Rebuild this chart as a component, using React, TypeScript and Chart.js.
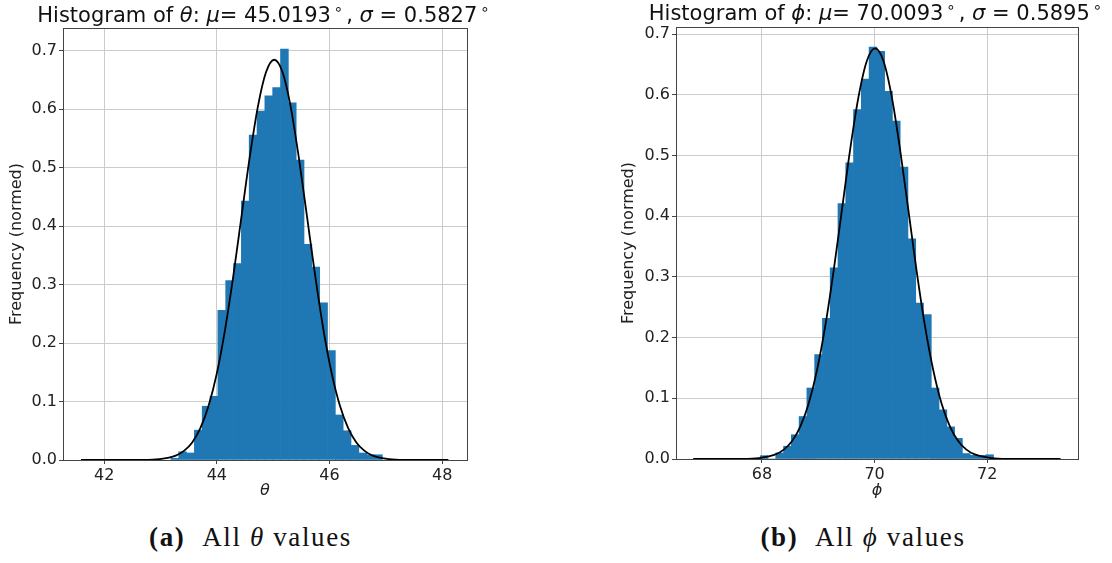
import React, { useEffect, useRef } from "react";
import { Chart, registerables } from "chart.js";

Chart.register(...registerables);

// ---------- data: theta histogram ----------
const THETA_BIN_CENTERS = [
  43.254, 43.393, 43.532, 43.671, 43.81, 43.949, 44.088, 44.227, 44.366, 44.505,
  44.644, 44.783, 44.922, 45.061, 45.2, 45.339, 45.478, 45.617, 45.756, 45.895,
  46.034, 46.173, 46.312, 46.451, 46.59, 46.729, 46.868,
];
const THETA_DENSITY = [
  0.003, 0.014, 0.012, 0.051, 0.092, 0.109, 0.256, 0.307, 0.336, 0.443,
  0.556, 0.597, 0.623, 0.637, 0.703, 0.611, 0.513, 0.369, 0.33, 0.269,
  0.187, 0.077, 0.05, 0.025, 0.012, 0.009, 0.009,
];
const THETA_FIT_X = [
  41.59, 42.688, 42.98, 43.271, 43.417, 43.563, 43.708, 43.854, 44.0, 44.145,
  44.291, 44.436, 44.582, 44.728, 44.874, 45.019, 45.165, 45.311, 45.456, 45.602,
  45.748, 45.893, 46.039, 46.185, 46.331, 46.476, 46.622, 46.767, 47.058, 47.35, 48.11,
];
const THETA_FIT_Y = [
  0.0, 0.0002, 0.0015, 0.0076, 0.0156, 0.0301, 0.0545, 0.0927, 0.1481, 0.2223,
  0.3135, 0.4153, 0.5168, 0.6042, 0.6636, 0.6847, 0.6636, 0.6042, 0.5168, 0.4153,
  0.3135, 0.2223, 0.1481, 0.0927, 0.0545, 0.0301, 0.0156, 0.0076, 0.0015, 0.0002, 0.0,
];
const THETA_X_TICKS = [42, 44, 46, 48];

// ---------- data: phi histogram ----------
const PHI_BIN_CENTERS = [
  68.039, 68.177, 68.315, 68.453, 68.591, 68.729, 68.867, 69.005, 69.143, 69.281,
  69.419, 69.557, 69.695, 69.833, 69.971, 70.109, 70.247, 70.385, 70.523, 70.661,
  70.799, 70.937, 71.075, 71.213, 71.351, 71.489, 71.627, 71.765, 71.903, 72.041,
];
const PHI_DENSITY = [
  0.0055, 0.0, 0.01, 0.021, 0.04, 0.07, 0.117, 0.172, 0.232, 0.315,
  0.421, 0.488, 0.576, 0.626, 0.679, 0.672, 0.606, 0.557, 0.481, 0.363,
  0.257, 0.238, 0.117, 0.081, 0.053, 0.034, 0.009, 0.006, 0.006, 0.007,
];
const PHI_FIT_X = [
  66.78, 67.651, 67.946, 68.241, 68.388, 68.536, 68.683, 68.83, 68.978, 69.125,
  69.272, 69.42, 69.567, 69.715, 69.862, 70.009, 70.157, 70.304, 70.451, 70.599,
  70.746, 70.893, 71.041, 71.188, 71.336, 71.483, 71.63, 71.778, 72.073, 72.367, 73.3,
];
const PHI_FIT_Y = [
  0.0, 0.0002, 0.0015, 0.0075, 0.0154, 0.0297, 0.0539, 0.0916, 0.1464, 0.2197,
  0.3098, 0.4104, 0.5108, 0.5972, 0.6559, 0.6767, 0.6559, 0.5972, 0.5108, 0.4104,
  0.3098, 0.2197, 0.1464, 0.0916, 0.0539, 0.0297, 0.0154, 0.0075, 0.0015, 0.0002, 0.0,
];
const PHI_X_TICKS = [68, 70, 72];

const Y_TICKS = [0, 0.1, 0.2, 0.3, 0.4, 0.5, 0.6, 0.7];

type Run = { t: string; s: "normal" | "italic" | "sup" };

const THETA_TITLE: Run[] = [
  { t: "Histogram of ", s: "normal" },
  { t: "θ", s: "italic" },
  { t: ": ", s: "normal" },
  { t: "μ", s: "italic" },
  { t: "= 45.0193", s: "normal" },
  { t: "∘", s: "sup" },
  { t: ", ", s: "normal" },
  { t: "σ", s: "italic" },
  { t: " = 0.5827", s: "normal" },
  { t: "∘", s: "sup" },
];
const PHI_TITLE: Run[] = [
  { t: "Histogram of ", s: "normal" },
  { t: "ϕ", s: "italic" },
  { t: ": ", s: "normal" },
  { t: "μ", s: "italic" },
  { t: "= 70.0093", s: "normal" },
  { t: "∘", s: "sup" },
  { t: ", ", s: "normal" },
  { t: "σ", s: "italic" },
  { t: " = 0.5895", s: "normal" },
  { t: "∘", s: "sup" },
];

const FONT = '"DejaVu Sans", sans-serif';
const BLUE = "#1f77b4";
const GRID = "#cccccc";
const TEXT = "#222222";

type Spec = {
  centers: number[];
  density: number[];
  fitX: number[];
  fitY: number[];
  xTicks: number[];
  xMin: number;
  xMax: number;
  yMax: number;
  xLabel: string;
  title: Run[];
  titleBaseline: number;
  padding: { left: number; right: number; top: number; bottom: number };
  yWidth: number;
  xHeight: number;
};

function runFont(s: Run["s"], size: number) {
  if (s === "italic") return `italic ${size}px ${FONT}`;
  if (s === "sup") return `${Math.round(size * 0.7)}px ${FONT}`;
  return `${size}px ${FONT}`;
}

function makeConfig(spec: Spec): any {
  const titleSize = 21;
  const titlePlugin = {
    id: "mixedTitle",
    afterDraw(chart: any) {
      const { ctx, chartArea } = chart;
      const gap = 3;
      let total = 0;
      const widths = spec.title.map((r) => {
        ctx.font = runFont(r.s, titleSize);
        const w = ctx.measureText(r.t).width + (r.s === "sup" ? gap * 2 : 0);
        total += w;
        return w;
      });
      let x = (chartArea.left + chartArea.right) / 2 - total / 2;
      ctx.save();
      ctx.fillStyle = "#111";
      ctx.textBaseline = "alphabetic";
      ctx.textAlign = "left";
      spec.title.forEach((r, i) => {
        ctx.font = runFont(r.s, titleSize);
        if (r.s === "sup") {
          ctx.fillText(r.t, x + gap, spec.titleBaseline - 8);
        } else {
          ctx.fillText(r.t, x, spec.titleBaseline);
        }
        x += widths[i];
      });
      ctx.restore();
    },
  };
  const framePlugin = {
    id: "frame",
    afterDraw(chart: any) {
      const { ctx, chartArea } = chart;
      ctx.save();
      ctx.strokeStyle = "#444";
      ctx.lineWidth = 1;
      ctx.strokeRect(
        Math.round(chartArea.left) + 0.5,
        Math.round(chartArea.top) + 0.5,
        Math.round(chartArea.right - chartArea.left),
        Math.round(chartArea.bottom - chartArea.top)
      );
      ctx.restore();
    },
  };

  return {
    type: "bar",
    data: {
      datasets: [
        {
          type: "line",
          data: spec.fitX.map((x, i) => ({ x, y: spec.fitY[i] })),
          borderColor: "#000",
          borderWidth: 1.8,
          pointRadius: 0,
          cubicInterpolationMode: "monotone",
          fill: false,
          order: 0,
        },
        {
          type: "bar",
          data: spec.centers.map((x, i) => ({ x, y: spec.density[i] })),
          backgroundColor: BLUE,
          borderWidth: 0,
          barPercentage: 1,
          categoryPercentage: 1,
          order: 1,
        },
      ],
    },
    options: {
      responsive: false,
      animation: false,
      layout: { padding: spec.padding },
      plugins: {
        legend: { display: false },
        tooltip: { enabled: false },
        title: { display: false },
      },
      scales: {
        x: {
          type: "linear",
          min: spec.xMin,
          max: spec.xMax,
          offset: false,
          z: 1,
          afterBuildTicks: (s: any) => {
            s.ticks = spec.xTicks.map((v) => ({ value: v }));
          },
          afterFit: (s: any) => {
            s.height = spec.xHeight;
          },
          grid: {
            offset: false,
            color: GRID,
            lineWidth: 1,
            drawTicks: true,
            tickLength: 4,
            tickColor: "#444",
          },
          border: { display: false },
          ticks: {
            autoSkip: false,
            maxRotation: 0,
            padding: 2,
            color: TEXT,
            font: { family: FONT, size: 16 },
            callback: (v: any) => String(v),
          },
          title: {
            display: true,
            text: spec.xLabel,
            color: TEXT,
            font: { family: FONT, size: 16, style: "italic" },
            padding: { top: 0, bottom: 10 },
          },
        },
        y: {
          type: "linear",
          min: 0,
          max: spec.yMax,
          z: 1,
          afterBuildTicks: (s: any) => {
            s.ticks = Y_TICKS.map((v) => ({ value: v }));
          },
          afterFit: (s: any) => {
            s.width = spec.yWidth;
          },
          grid: {
            color: GRID,
            lineWidth: 1,
            drawTicks: true,
            tickLength: 4,
            tickColor: "#444",
          },
          border: { display: false },
          ticks: {
            autoSkip: false,
            padding: 2,
            color: TEXT,
            font: { family: FONT, size: 16 },
            callback: (v: any) => Number(v).toFixed(1),
          },
          title: {
            display: true,
            text: "Frequency (normed)",
            color: TEXT,
            font: { family: FONT, size: 16 },
            padding: { top: 7, bottom: 0 },
          },
        },
      },
    },
    plugins: [titlePlugin, framePlugin],
  };
}

function HistChart(props: { spec: Spec; left: number; width: number; height: number }) {
  const ref = useRef<HTMLCanvasElement | null>(null);
  useEffect(() => {
    if (!ref.current) return;
    const chart = new Chart(ref.current, makeConfig(props.spec));
    return () => chart.destroy();
  }, []);
  return (
    <canvas
      ref={ref}
      width={props.width}
      height={props.height}
      style={{ position: "absolute", left: props.left, top: 0, width: props.width, height: props.height }}
    />
  );
}

const THETA_SPEC: Spec = {
  centers: THETA_BIN_CENTERS,
  density: THETA_DENSITY,
  fitX: THETA_FIT_X,
  fitY: THETA_FIT_Y,
  xTicks: THETA_X_TICKS,
  xMin: 41.27,
  xMax: 48.44,
  yMax: 0.739,
  xLabel: "θ",
  title: THETA_TITLE,
  titleBaseline: 22,
  padding: { left: 0, right: 73, top: 28, bottom: 0 },
  yWidth: 63,
  xHeight: 50,
};

const PHI_SPEC: Spec = {
  centers: PHI_BIN_CENTERS,
  density: PHI_DENSITY,
  fitX: PHI_FIT_X,
  fitY: PHI_FIT_Y,
  xTicks: PHI_X_TICKS,
  xMin: 66.475,
  xMax: 73.61,
  yMax: 0.712,
  xLabel: "ϕ",
  title: PHI_TITLE,
  titleBaseline: 20,
  padding: { left: 0, right: 34, top: 27, bottom: 0 },
  yWidth: 64,
  xHeight: 51,
};

const captionStyle: React.CSSProperties = {
  position: "absolute",
  top: 522,
  textAlign: "center",
  fontFamily: '"Liberation Serif", "DejaVu Serif", serif',
  fontSize: 27,
  letterSpacing: "0.06em",
  lineHeight: "30px",
  color: "#111",
  whiteSpace: "nowrap",
};

export default function App() {
  return (
    <div
      style={{
        position: "fixed",
        left: 0,
        top: 0,
        width: 1112,
        height: 563,
        background: "#fff",
        overflow: "hidden",
      }}
    >
      <HistChart spec={THETA_SPEC} left={0} width={540} height={510} />
      <HistChart spec={PHI_SPEC} left={612} width={500} height={510} />
      <div style={{ ...captionStyle, left: 0, width: 501 }}>
        <b>(a)</b>&nbsp;&nbsp;All <i>θ</i> values
      </div>
      <div style={{ ...captionStyle, left: 663, width: 400 }}>
        <b>(b)</b>&nbsp;&nbsp;All <i>ϕ</i> values
      </div>
    </div>
  );
}
